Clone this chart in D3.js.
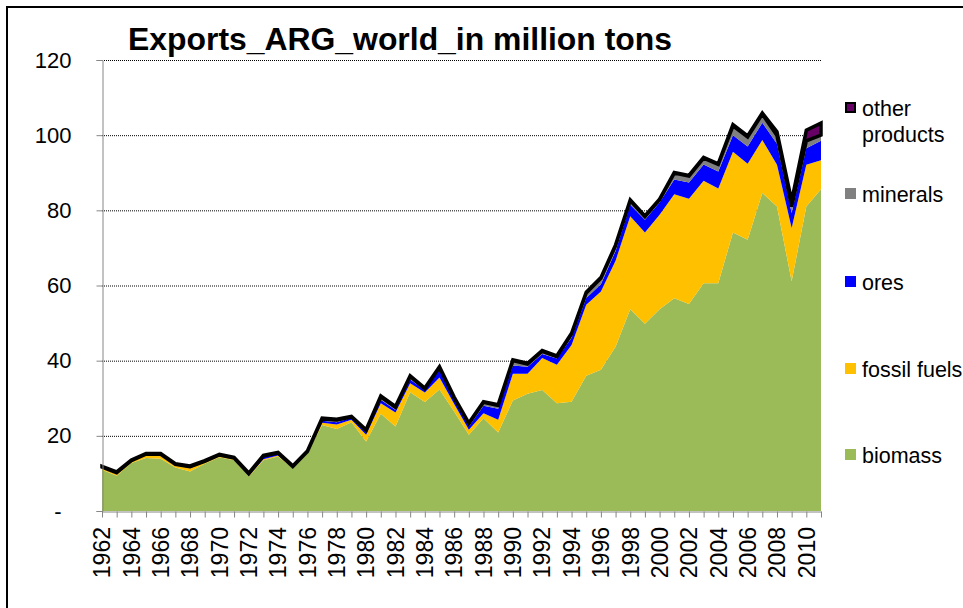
<!DOCTYPE html>
<html>
<head>
<meta charset="utf-8">
<script src="https://cdn.jsdelivr.net/npm/d3@7"></script>
<style>
  body { margin: 0; background: #fff; }
  text { font-family: "Liberation Sans", Arial, sans-serif; fill: #000; }
</style>
</head>
<body>
<script>
var width = 963,
    height = 608;

// exports of Argentina to the world, million tons
var years = d3.range(1962, 2012);
var yearLabels = d3.range(1962, 2012, 2);
var yTicks = [0, 20, 40, 60, 80, 100, 120];
var seriesNames = ["biomass", "fossil fuels", "ores", "minerals", "other products"];

var biomass = [11.0, 9.4, 12.8, 14.1, 13.9, 11.6, 10.5, 12.6, 14.3, 13.5,
    9.2, 13.5, 14.5, 11.4, 15.4, 22.9, 21.8, 23.6, 18.5, 25.9,
    22.5, 31.6, 29.0, 32.3, 26.5, 20.3, 24.7, 20.9, 29.4, 31.2,
    32.2, 28.7, 29.1, 36.0, 37.6, 43.7, 53.7, 49.8, 53.7, 56.6,
    55.1, 60.6, 60.6, 74.1, 72.2, 84.6, 81.0, 61.1, 81.0, 85.6];
var fossil = [0.5, 0.5, 0.4, 0.8, 0.8, 0.6, 0.9, 0.4, 0.3, 0.3,
    0.2, 0.3, 0.3, 0.2, 0.2, 0.6, 1.2, 0.7, 1.8, 2.8,
    3.7, 2.4, 2.5, 3.2, 2.0, 1.3, 1.3, 3.4, 7.1, 5.3,
    8.5, 10.2, 15.1, 18.9, 20.8, 22.9, 24.7, 24.3, 25.1, 27.7,
    28.0, 27.3, 25.2, 21.5, 20.2, 14.1, 11.1, 14.2, 11.1, 7.7];
var ores = [0.1, 0.1, 0.1, 0.1, 0.1, 0.1, 0.1, 0.1, 0.1, 0.1,
    0.2, 0.6, 0.5, 0.1, 0.1, 0.5, 0.6, 0.5, 0.6, 0.9,
    0.7, 1.0, 0.6, 2.0, 1.2, 0.9, 2.0, 2.9, 2.2, 1.9,
    1.1, 1.7, 1.9, 1.8, 1.9, 2.6, 3.1, 3.4, 3.3, 3.9,
    4.3, 4.3, 4.5, 4.4, 4.6, 4.6, 5.6, 4.0, 4.4, 5.2];
var minerals = [0.1, 0.2, 0.1, 0.1, 0.3, 0.1, 0.3, 0.1, 0.2, 0.2,
    0.3, 0.2, 0.1, 0.1, 0.1, 0.5, 0.6, 0.2, 0.5, 0.8,
    0.7, 0.8, 0.4, 0.7, 0.4, 0.7, 0.9, 0.9, 1.3, 0.7,
    0.7, 0.5, 1.0, 1.3, 1.6, 1.4, 1.1, 0.8, 0.7, 1.7,
    1.7, 1.7, 1.9, 2.5, 2.5, 2.3, 2.2, 1.7, 2.0, 1.5];
var other = [0.2, 0.2, 0.2, 0.2, 0.2, 0.2, 0.2, 0.2, 0.2, 0.2,
    0.2, 0.2, 0.2, 0.2, 0.2, 0.2, 0.2, 0.2, 0.2, 0.2,
    0.2, 0.2, 0.2, 0.2, 0.2, 0.2, 0.2, 0.2, 0.2, 0.2,
    0.2, 0.2, 0.2, 0.2, 0.2, 0.2, 0.2, 0.2, 0.2, 0.2,
    0.2, 0.2, 0.2, 0.3, 0.3, 0.3, 1.0, 1.5, 2.8, 3.2];
var colors = ["#9bbb59", "#ffc000", "#0000ff", "#808080", "#660066"];

var table = years.map(function (yr, i) {
    return {
        year: yr,
        "biomass": biomass[i],
        "fossil fuels": fossil[i],
        "ores": ores[i],
        "minerals": minerals[i],
        "other products": other[i]
    };
});

var svg = d3.select("body").append("svg")
    .attr("width", width)
    .attr("height", height);

// outer frame
svg.append("rect")
    .attr("x", 7).attr("y", 7)
    .attr("width", width + 10).attr("height", height + 10)
    .attr("fill", "none")
    .attr("stroke", "#000")
    .attr("stroke-width", 2);

var x = d3.scaleLinear().domain([1962, 2011]).range([102, 821]);
var y = d3.scaleLinear().domain([0, 120]).range([511, 60]);

// gridlines (behind areas)
svg.append("g")
    .selectAll("line")
    .data(yTicks.filter(function (d) { return d > 0; }))
    .enter().append("line")
    .attr("x1", x(1962)).attr("x2", x(2011))
    .attr("y1", function (d) { return y(d) + 0.5; })
    .attr("y2", function (d) { return y(d) + 0.5; })
    .attr("stroke", "#000")
    .attr("stroke-width", 1)
    .attr("stroke-dasharray", "1,1");

var stack = d3.stack().keys(seriesNames);
var layers = stack(table);

var area = d3.area()
    .x(function (d) { return x(d.data.year); })
    .y0(function (d) { return y(d[0]); })
    .y1(function (d) { return y(d[1]); });

svg.append("g")
    .selectAll("path")
    .data(layers)
    .enter().append("path")
    .attr("d", area)
    .attr("fill", function (d, i) { return colors[i]; })
    .attr("stroke", function (d, i) { return i === 4 ? "#000" : "none"; })
    .attr("stroke-width", function (d, i) { return i === 4 ? 3.5 : 0; })
    .attr("stroke-linejoin", "miter")
    .attr("stroke-miterlimit", 3);

// y axis
var yAxis = svg.append("g")
    .attr("transform", "translate(" + (x(1962) + 0.5) + ",0)")
    .call(d3.axisLeft(y)
        .tickValues(yTicks)
        .tickSize(6)
        .tickPadding(25)
        .tickFormat(function (d) { return d === 0 ? "-" : d; }));
yAxis.select(".domain").attr("stroke", "#868686");
yAxis.selectAll(".tick line").attr("stroke", "#868686");
yAxis.selectAll(".tick text")
    .style("font-size", "22px")
    .attr("dx", function (d) { return d === 0 ? -10 : 0; });

// x axis
var xAxis = svg.append("g")
    .attr("transform", "translate(0," + (y(0) + 0.5) + ")")
    .call(d3.axisBottom(x)
        .tickValues(years)
        .tickSize(6)
        .tickSizeOuter(0)
        .tickFormat(""));
xAxis.select(".domain").attr("stroke", "#868686");
xAxis.selectAll(".tick line").attr("stroke", "#868686");

svg.append("g")
    .selectAll("text")
    .data(yearLabels)
    .enter().append("text")
    .attr("transform", function (d) {
        return "translate(" + x(d) + ",527) rotate(-90)";
    })
    .attr("text-anchor", "end")
    .attr("dy", "0.36em")
    .style("font-size", "23px")
    .text(function (d) { return d; });

// title
svg.append("text")
    .attr("x", 128)
    .attr("y", 50)
    .attr("textLength", 544)
    .attr("lengthAdjust", "spacingAndGlyphs")
    .style("font-size", "32px")
    .style("font-weight", "bold")
    .text("Exports_ARG_world_in million tons");

// legend, top to bottom
var legendItems = [
    { name: "other products", lines: ["other", "products"], color: colors[4], base: 116 },
    { name: "minerals", lines: ["minerals"], color: colors[3], base: 202 },
    { name: "ores", lines: ["ores"], color: colors[2], base: 290 },
    { name: "fossil fuels", lines: ["fossil fuels"], color: colors[1], base: 377 },
    { name: "biomass", lines: ["biomass"], color: colors[0], base: 463 }
];

var legend = svg.append("g")
    .selectAll("g")
    .data(legendItems)
    .enter().append("g");

legend.append("rect")
    .attr("x", function (d) { return d.name === "other products" ? 846 : 845; })
    .attr("y", function (d) { return d.base - (d.name === "other products" ? 13 : 14); })
    .attr("width", function (d) { return d.name === "other products" ? 9 : 11; })
    .attr("height", function (d) { return d.name === "other products" ? 9 : 11; })
    .attr("fill", function (d) { return d.color; })
    .attr("stroke", function (d) { return d.name === "other products" ? "#000" : "none"; })
    .attr("stroke-width", 2);

legend.each(function (d) {
    var g = d3.select(this);
    d.lines.forEach(function (line, i) {
        g.append("text")
            .attr("x", 862)
            .attr("y", d.base + i * 26)
            .style("font-size", "21.5px")
            .text(line);
    });
});
</script>
</body>
</html>
